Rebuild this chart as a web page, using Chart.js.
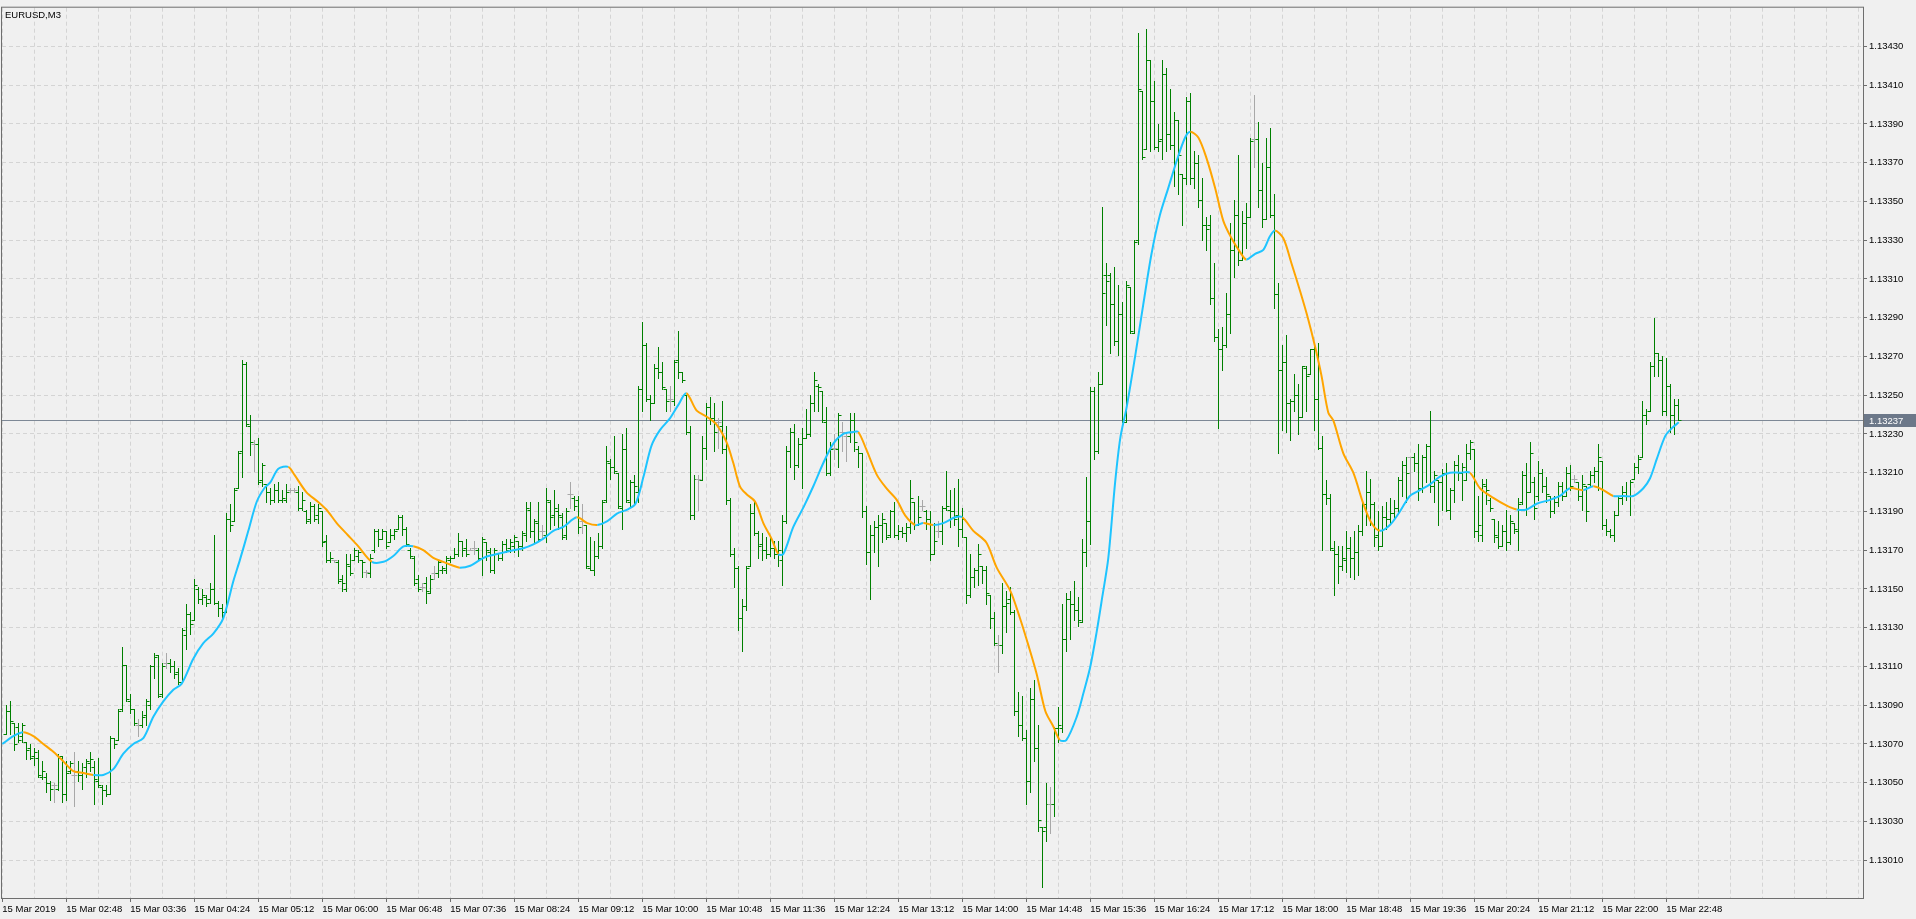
<!DOCTYPE html>
<html><head><meta charset="utf-8">
<script src="https://cdn.jsdelivr.net/npm/chart.js@4"></script>
<style>html,body{margin:0;padding:0;background:#f0f0f0;overflow:hidden}canvas{display:block}</style>
</head><body><canvas id="c" width="1916" height="919"></canvas>
<script>
const symbolTitle = "EURUSD,M3";
const BASE = 1.13, POINT = 0.00001;   // values below are in points above 1.13000
const O = [75,87,81,79,74,71,68,64,63,53,53,50,49,47,64,44,56,54,56,54,58,60,58,51,48,46,44,73,72,88,111,92,88,80,80,85,90,110,116,96,112,112,110,107,102,126,137,134,150,145,146,145,150,143,140,138,186,185,202,221,266,234,225,225,206,204,200,196,201,196,196,201,201,200,192,190,186,193,188,190,175,165,165,164,155,150,162,165,167,165,159,158,170,180,176,180,174,178,181,187,181,170,166,155,151,153,148,158,158,160,160,165,166,168,175,171,170,171,170,166,174,169,160,168,166,173,171,172,175,172,178,191,180,184,180,178,195,188,190,187,178,199,197,196,185,183,161,160,167,172,196,215,213,210,192,222,195,205,200,253,276,248,246,264,262,253,248,247,268,262,250,231,188,207,206,223,244,238,236,234,222,196,168,161,135,141,162,189,179,173,170,168,171,168,165,185,221,231,214,225,228,230,246,255,252,236,210,223,222,231,229,229,237,222,220,190,169,178,182,183,184,178,190,178,180,179,182,195,183,193,190,186,168,180,180,192,191,190,188,181,177,147,156,160,162,160,147,135,121,121,141,145,138,87,80,73,51,93,68,27,27,39,39,78,78,124,145,142,139,133,169,185,252,221,256,312,312,297,278,292,236,306,282,330,407,377,423,402,378,382,416,385,379,392,364,362,402,362,370,351,338,338,300,280,274,276,292,325,343,320,339,342,382,382,356,341,368,343,302,263,267,246,247,250,239,264,261,274,248,223,199,197,170,168,162,165,171,166,169,180,194,200,194,178,172,187,186,189,192,206,214,218,218,215,202,218,224,203,206,205,210,191,201,214,210,206,220,222,180,178,203,196,186,177,172,180,174,184,180,195,209,200,205,198,210,203,198,190,195,203,198,210,207,205,198,203,204,209,211,216,183,180,178,188,197,200,198,207,213,218,240,242,265,272,268,242,255,240,245];
const H = [90,92,81,81,81,71,70,68,67,61,55,51,50,65,64,61,61,66,61,60,62,66,61,63,49,49,74,73,88,120,111,96,88,83,87,93,111,117,116,112,117,114,113,109,130,142,138,155,151,150,147,153,178,144,142,189,194,202,221,268,267,240,227,228,215,204,202,204,205,201,204,202,202,203,200,191,195,194,194,190,178,169,165,165,157,168,168,171,170,165,160,168,181,181,181,180,181,181,188,188,182,171,167,157,153,156,157,162,165,162,167,167,171,179,175,176,171,175,171,177,174,171,171,168,175,176,176,178,175,180,195,195,186,195,183,202,196,201,194,189,192,205,198,198,194,183,177,175,179,196,224,217,229,210,230,233,206,209,255,288,277,250,266,275,267,253,255,268,283,262,250,234,209,209,229,246,249,246,238,247,234,197,171,162,145,162,194,195,180,179,177,177,175,175,188,224,233,235,228,233,243,250,262,256,252,244,226,230,241,236,230,241,241,224,220,193,183,185,188,189,184,191,195,183,182,184,206,195,198,196,191,190,184,185,193,211,201,202,207,192,177,168,161,173,162,162,147,138,126,153,149,151,139,97,95,77,99,103,80,27,50,48,79,89,142,148,149,154,146,176,208,254,254,262,347,318,313,316,307,298,309,306,330,437,407,439,423,412,390,423,419,408,396,392,364,404,406,376,374,362,342,343,318,284,285,303,339,351,374,345,349,383,405,391,370,383,388,354,308,276,281,248,261,256,265,265,274,277,277,229,206,199,175,172,172,180,177,180,183,195,211,207,195,190,193,195,197,196,208,216,218,218,220,225,219,225,242,211,206,212,215,202,216,219,215,225,227,222,198,207,207,197,186,185,183,191,188,184,197,211,215,226,208,216,212,208,198,198,205,205,213,214,209,205,209,203,211,213,225,216,186,181,190,198,203,205,206,215,219,247,243,267,290,272,270,269,256,248,248];
const L = [75,75,67,71,71,62,62,59,53,52,45,41,40,46,40,41,55,38,51,47,53,56,39,48,39,43,44,68,72,87,92,86,80,74,79,80,88,104,94,94,109,107,104,101,102,119,127,134,143,142,141,143,142,136,135,138,180,185,202,208,234,219,211,204,203,195,194,195,195,195,195,200,200,191,191,184,184,185,184,172,164,164,164,153,149,149,157,165,164,156,156,156,169,172,176,171,174,176,181,178,172,166,152,149,149,143,148,155,156,158,158,164,166,167,167,167,170,168,165,157,165,159,158,165,165,169,169,169,167,170,175,177,174,175,176,174,181,183,181,176,176,192,191,179,179,161,160,157,166,171,195,207,210,192,181,195,193,194,195,242,247,237,246,259,253,242,242,245,259,257,230,186,186,191,206,217,235,221,223,220,194,167,151,129,118,139,162,178,166,165,166,167,166,162,152,184,213,207,213,202,228,229,242,242,236,209,209,217,213,221,216,226,221,213,187,163,145,169,162,174,176,177,177,176,177,175,179,181,183,191,181,165,168,177,173,191,182,183,172,177,143,146,151,152,153,142,130,121,107,117,128,137,85,74,72,39,45,61,25,-4,20,24,33,71,76,118,124,134,131,133,162,173,217,220,256,286,272,276,271,236,236,282,282,328,372,377,376,377,376,372,376,377,358,354,338,359,359,357,347,330,325,297,278,233,263,275,282,311,317,320,326,342,368,347,337,341,342,295,220,232,231,227,242,230,239,242,261,232,222,170,194,170,147,153,160,159,156,155,157,178,183,183,172,170,172,181,184,186,189,198,195,199,211,196,200,205,200,195,183,191,190,186,195,206,196,206,217,177,175,175,194,190,174,171,172,170,173,179,170,194,188,200,186,196,200,195,187,189,193,196,198,201,205,196,191,185,203,205,201,181,178,177,175,188,194,196,188,207,210,218,235,242,260,260,240,240,231,230,237];
const C = [87,82,70,72,80,67,63,66,54,56,50,47,49,63,44,55,60,54,54,55,61,62,52,49,46,44,73,70,87,111,93,88,81,80,84,92,110,115,95,110,112,110,106,102,129,137,132,152,145,147,143,150,143,140,138,186,183,201,220,266,235,226,225,205,214,200,196,201,196,197,200,201,201,192,196,185,193,186,192,174,165,166,165,154,153,163,158,170,169,164,159,166,180,176,180,172,178,180,187,181,173,167,153,150,151,149,155,158,164,161,166,166,168,175,170,168,170,171,166,176,170,160,170,166,173,170,174,177,172,179,192,180,185,176,180,196,187,192,188,177,190,199,193,182,185,162,160,167,172,195,216,213,211,193,222,196,205,203,253,276,248,246,264,262,254,247,248,267,262,258,231,188,207,207,223,244,238,231,236,222,196,168,161,135,141,161,189,179,172,170,168,171,168,170,185,221,231,214,225,228,230,246,258,254,237,210,222,223,240,231,229,237,226,220,190,169,178,182,183,186,177,190,178,180,179,182,197,183,187,193,186,168,175,180,192,193,190,186,181,186,147,156,160,168,160,148,135,122,121,141,143,138,87,80,73,51,93,68,31,25,39,39,78,80,124,145,142,139,134,169,185,252,221,256,303,309,297,278,292,237,307,283,329,408,373,423,402,378,381,416,385,379,392,374,362,402,362,370,351,338,336,300,280,274,276,292,325,343,320,339,342,381,382,356,341,368,343,302,263,267,246,247,250,239,265,260,274,248,223,199,197,171,168,162,166,171,166,169,180,194,200,194,177,172,187,186,189,192,206,214,210,218,215,202,218,224,203,209,205,210,191,201,214,210,213,220,226,180,183,204,201,192,178,172,180,174,185,181,194,209,200,220,192,210,203,199,190,195,203,198,210,203,207,198,204,190,209,211,218,183,180,178,188,197,200,198,205,213,217,240,237,265,272,268,242,255,240,245,237];
// moving average line: bar index and value (points)
const maBars = [-1,1.75,4.25,6.75,9.25,11.75,14.25,16.75,19.25,21.75,24.25,26.75,29.25,31.75,34.25,36.75,39.25,41.75,43.8,46.75,49.25,51.75,54.25,56.75,58.4,60.5,62.6,64.5,66,68,70.5,72,75,77.9,80,82.6,85.3,88,91.4,94.3,96.75,99.3,101.75,104.25,106.75,109.25,111.75,113.4,116,118.4,120.5,126.75,129.25,131.75,134.25,136.75,139.25,142.6,145.25,147.75,150.25,152.75,155.25,157.3,159.3,161.3,163.4,165.9,168,170,172.6,175,177.5,180,181.75,183.4,185,187.2,189.25,191.3,193,194.25,196.75,199.25,201.75,204.25,206.75,209.25,211.75,213,215,217.6,220,222.6,224.7,227.25,229.25,231.75,234.25,237.2,239,241.75,245,247.6,251,253.4,255.5,257.6,259.75,261.75,263.4,265,267.6,269.25,271,272.6,274,275.5,277.2,278.5,280.1,282.2,284.25,286.3,288.4,290.5,292.6,294.7,296,298,300.1,302.2,304.25,306.3,308.4,310,312.2,314.25,315.9,317.2,319.25,321.3,323.4,325.5,327.2,328.8,330.5,331.75,334.25,336.75,339.25,341.3,343.4,345.9,348.4,350.9,353.4,355.9,358.4,360.9,363.4,365.9,368.4,371.75,375.1,377.6,380.1,382.6,385.9,388.4,390.9,394.25,396.75,399.25,401.75,404.25,406.75,409.25,410.9,412.6,414.75,416.4,418.1];
const maVals = [70,74,76,74,70,66,61,56,55,54,54,57,65,70,73,84,92,98,101,114,122,127,135,154,165,180,195,202,205,212,213,209,200,195,191,184,178,172,164,164,167,172,172,170,166,164,162,161,162,165,167,170,171,173,176,180,182,187,184,183,185,189,191,194,208,224,232,238,245,251,242,239,235,226,215,203,199,195,184,176,168,168,182,192,203,215,225,230,231,231,222,209,202,196,188,183,184,183,184,187,187,180,174,161,149,135,121,106,87,79,72,72,84,96,110,128,146,166,205,228,244,270,297,323,343,357,371,383,386,383,372,357,340,331,324,320,323,325,332,335,331,318,304,289,275,260,241,237,220,210,194,184,180,183,190,198,201,204,208,210,210,210,202,197,193,191,191,194,196,198,202,201,203,201,198,198,198,202,207,217,229,233,236];
const yTickVals = [1.13010,1.13030,1.13050,1.13070,1.13090,1.13110,1.13130,1.13150,1.13170,1.13190,1.13210,1.13230,1.13250,1.13270,1.13290,1.13310,1.13330,1.13350,1.13370,1.13390,1.13410,1.13430];
const xLabels = ["15 Mar 2019","15 Mar 02:48","15 Mar 03:36","15 Mar 04:24","15 Mar 05:12","15 Mar 06:00","15 Mar 06:48","15 Mar 07:36","15 Mar 08:24","15 Mar 09:12","15 Mar 10:00","15 Mar 10:48","15 Mar 11:36","15 Mar 12:24","15 Mar 13:12","15 Mar 14:00","15 Mar 14:48","15 Mar 15:36","15 Mar 16:24","15 Mar 17:12","15 Mar 18:00","15 Mar 18:48","15 Mar 19:36","15 Mar 20:24","15 Mar 21:12","15 Mar 22:00","15 Mar 22:48"];
const lastPrice = 1.13237;

const px = p => BASE + p*POINT;
const XMIN = -1.08, XMAX = XMIN + 1861/4;
const FONT = {family:'Liberation Sans', size:9.5};

const ohlcPlugin = {
  id:'ohlc',
  beforeDatasetsDraw(chart){
    const {ctx, scales:{x,y}, chartArea:a} = chart;
    ctx.save();
    ctx.beginPath(); ctx.rect(a.left,a.top,a.right-a.left,a.bottom-a.top); ctx.clip();
    const ly = Math.round(y.getPixelForValue(lastPrice))+0.5;
    ctx.strokeStyle='#7d8896'; ctx.lineWidth=1;
    ctx.beginPath(); ctx.moveTo(a.left,ly); ctx.lineTo(a.right,ly); ctx.stroke();
    for(let i=0;i<C.length;i++){
      const o=O[i], c=C[i], h=Math.max(H[i],o,c), l=Math.min(L[i],o,c);
      const xx = Math.round(x.getPixelForValue(i))+0.5;
      ctx.strokeStyle = (o===c) ? '#a8a8a8' : '#008000';
      ctx.beginPath();
      ctx.moveTo(xx, Math.round(y.getPixelForValue(px(h))));
      ctx.lineTo(xx, Math.round(y.getPixelForValue(px(l)))+1);
      const yo = Math.round(y.getPixelForValue(px(o)))+0.5;
      const yc = Math.round(y.getPixelForValue(px(c)))+0.5;
      ctx.moveTo(xx-3, yo); ctx.lineTo(xx, yo);
      ctx.moveTo(xx, yc); ctx.lineTo(xx+3, yc);
      ctx.stroke();
    }
    ctx.restore();
  },
  afterDraw(chart){
    const {ctx, scales:{y}, chartArea:a} = chart;
    ctx.save();
    ctx.strokeStyle='#6e6e6e'; ctx.lineWidth=1;
    ctx.strokeRect(a.left-0.5, a.top-0.5, a.right-a.left+1, a.bottom-a.top+1);
    const ly = Math.round(y.getPixelForValue(lastPrice));
    ctx.fillStyle='#6c7889';
    ctx.fillRect(a.right+1, ly-6, 1916-a.right-1, 13);
    ctx.fillStyle='#ffffff'; ctx.font='9.5px "Liberation Sans"'; ctx.textBaseline='middle';
    ctx.fillText(lastPrice.toFixed(5), a.right+6, ly+1);
    ctx.fillStyle='#000'; ctx.textBaseline='top';
    ctx.fillText(symbolTitle, a.left+3, a.top+3);
    ctx.restore();
  }
};

new Chart(document.getElementById('c'), {
  type:'line',
  data:{datasets:[{
    data: maBars.map((b,i)=>({x:b, y:px(maVals[i])})),
    borderWidth:2, pointRadius:0, tension:0.3,
    borderColor:'#1ec4ff',
    segment:{borderColor: ctx => ctx.p1.parsed.y >= ctx.p0.parsed.y ? '#1ec4ff' : '#ffa500'}
  }]},
  options:{
    responsive:false, animation:false, devicePixelRatio:1,
    layout:{padding:{left:2,top:2,right:0,bottom:0}},
    plugins:{legend:{display:false}, tooltip:{enabled:false}},
    scales:{
      x:{type:'linear', min:XMIN, max:XMAX,
        afterBuildTicks: s => { const t=[]; for(let k=0;k*8-1<=XMAX;k++) t.push({value:k*8-1}); s.ticks=t; },
        afterFit: s => { s.height = 21; },
        ticks:{align:'start', maxRotation:0, autoSkip:false, padding:2, color:'#000', font:FONT,
          callback:(v,i)=> (i%2===0 && xLabels[i/2]) ? xLabels[i/2] : ''},
        grid:{color:'#d4d4d4', lineWidth:1, tickLength:4,
          tickColor: c => (c.index%2===0 && c.index/2 < xLabels.length) ? '#6e6e6e' : 'rgba(0,0,0,0)'},
        border:{display:false, dash:[4,3]}
      },
      y:{type:'linear', position:'right', min:1.129905, max:1.1345,
        afterBuildTicks: s => { s.ticks = yTickVals.map(v=>({value:v})); },
        afterFit: s => { s.width = 53; },
        ticks:{padding:2, color:'#000', font:FONT, callback:v=>Number(v).toFixed(5)},
        grid:{color:'#d4d4d4', lineWidth:1, tickLength:4, tickColor:'#6e6e6e'},
        border:{display:false, dash:[4,3]}
      }
    }
  },
  plugins:[ohlcPlugin]
});
</script></body></html>
